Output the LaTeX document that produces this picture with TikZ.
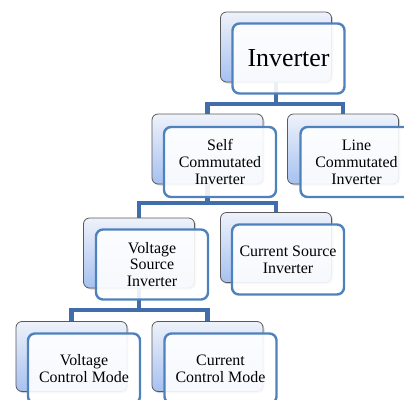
\documentclass[tikz,border=0pt]{standalone}
\usepackage{fontspec}
\setmainfont{Liberation Serif}
\definecolor{frontblue}{HTML}{4F81BD}
\definecolor{connblue}{HTML}{416EAA}
\definecolor{backtop}{HTML}{EEF2FA}
\definecolor{backbot}{HTML}{A6C1F0}
\definecolor{backline}{HTML}{5A5A5A}
\tikzset{
  backbox/.style={rectangle, rounded corners=6bp, minimum width=111bp, minimum height=70bp,
    inner sep=0pt, draw=backline, line width=0.8bp, top color=backtop, bottom color=backbot},
  shadowbox/.style={rectangle, rounded corners=6bp, minimum width=111bp, minimum height=70bp,
    inner sep=0pt, fill=black, fill opacity=0.18},
  frontbox/.style={rectangle, rounded corners=7bp, minimum width=112bp, minimum height=70bp,
    inner sep=0pt, draw=frontblue, line width=2.4bp, fill=white, fill opacity=0.9, text opacity=1,
    align=center, font=\fontsize{16}{17}\selectfont},
  conn/.style={draw=connblue, line width=4.5bp, line join=miter},
}
\begin{document}
\begin{tikzpicture}[x=1bp,y=-1bp]
\useasboundingbox (0,0) rectangle (404,400);
% shadows
\foreach \p in {(277.5,48.5),(209,150.5),(344.5,150.5),(140.5,254.5),(277.5,249),(73,358),(209,358)}
  \node[shadowbox] at \p {};
% back boxes
\node[backbox] (invB) at (276,47) {};
\node[backbox] (selfB) at (207.5,149) {};
\node[backbox] (lineB) at (343,149) {};
\node[backbox] (vsiB) at (139,253) {};
\node[backbox] (csiB) at (276,247.5) {};
\node[backbox] (vcmB) at (71.5,356.5) {};
\node[backbox] (ccmB) at (207.5,356.5) {};
% connectors
\coordinate (j1) at (276,104);
\coordinate (j2) at (207.5,203);
\coordinate (j3) at (139,310);
\draw[conn] (invB.south) -- (j1);
\draw[conn] (selfB.north) |- (j1) -| (lineB.north);
\draw[conn] (selfB.south) -- (j2);
\draw[conn] (vsiB.north) |- (j2) -| (csiB.north);
\draw[conn] (vsiB.south) -- (j3);
\draw[conn] (vcmB.north) |- (j3) -| (ccmB.north);
% front boxes
\node[frontbox, font=\fontsize{26}{30}\selectfont] (inv) at (288.5,58.5) {Inverter};
\node[frontbox] (self) at (220,162) {Self\\Commutated\\Inverter};
\node[frontbox] (line) at (356.5,162) {Line\\Commutated\\Inverter};
\node[frontbox] (vsi) at (152,264.5) {Voltage\\Source\\Inverter};
\node[frontbox] (csi) at (288,259.5) {Current Source\\Inverter};
\node[frontbox] (vcm) at (84,368.5) {Voltage\\Control Mode};
\node[frontbox] (ccm) at (220.5,368.5) {Current\\Control Mode};
\end{tikzpicture}
\end{document}
